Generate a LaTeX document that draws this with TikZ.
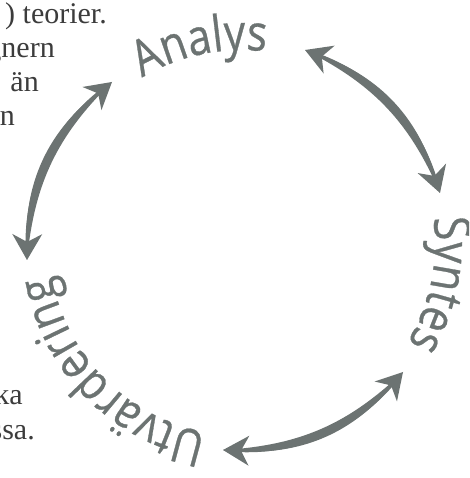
\documentclass[tikz,border=0pt]{standalone}
\usepackage{fontspec}
\setmainfont{Liberation Serif}
\newfontfamily\arcfont[FakeStretch=0.85,FakeBold=0.6]{Open Sans}
\usetikzlibrary{arrows.meta,decorations.text}
\definecolor{arcgray}{RGB}{108,115,114}
\definecolor{bodytext}{RGB}{60,60,60}
\begin{document}
\begin{tikzpicture}[x=1pt,y=1pt,
  body/.style={font=\fontsize{30}{35}\selectfont, text=bodytext, inner sep=0pt, anchor=base east},
  headtip/.tip={Stealth[length=26pt,width=30pt,inset=8pt,line width=0pt,color=arcgray,fill=arcgray]},
  dblarrow/.style={draw=arcgray, line width=3.4pt, headtip-headtip},
  lens/.style={fill=arcgray}
]
\useasboundingbox (0,0) rectangle (469,478);
\clip (0,0) rectangle (469,478);
\coordinate (C) at (242,235);
% cut-off body text
\node[body] (t1) at (107,454) {) teorier.};
\node[body] (t2) at (55,420) {gnern};
\node[body] (t3) at (39,386) {än};
\node[body] (t4) at (15,352) {n};
\node[body] (t5) at (23,73) {ka};
\node[body] (t6) at (35,38) {ssa.};
% words along the circle
\path[decorate, decoration={text along path, text align=center, text color=arcgray,
  text={|\arcfont\fontsize{50}{50}\selectfont|Analys}}]
  ([shift={(137:193)}]C) arc[start angle=137, end angle=67, radius=193];
\path[decorate, decoration={text along path, text align=center, text color=arcgray,
  text={|\arcfont\fontsize{50}{50}\selectfont|Syntes}}]
  ([shift={(23.2:193)}]C) arc[start angle=23.2, end angle=-46.8, radius=193];
\path[decorate, decoration={text along path, text align=center, text color=arcgray,
  text={|\arcfont\fontsize{50}{50}\selectfont|Utvärdering}}]
  ([shift={(284.6:193)}]C) arc[start angle=284.6, end angle=164.6, radius=193];
% arrow end points
\coordinate (a1) at (305,428);
\coordinate (b1) at (440,285);
\coordinate (a2) at (403,106);
\coordinate (b2) at (223,28);
\coordinate (a3) at (27,218);
\coordinate (b3) at (112,396);
% tapered shafts
\fill[lens] (a1) to[bend left=30] (b1) to[bend right=20] (a1) -- cycle;
\fill[lens] (a2) to[bend left=30] (b2) to[bend right=20] (a2) -- cycle;
\fill[lens] (a3) to[bend left=30] (b3) to[bend right=20] (a3) -- cycle;
% double arrows
\draw[dblarrow] (a1) to[bend left=25] (b1);
\draw[dblarrow] (a2) to[bend left=25] (b2);
\draw[dblarrow] (a3) to[bend left=25] (b3);
\end{tikzpicture}
\end{document}
